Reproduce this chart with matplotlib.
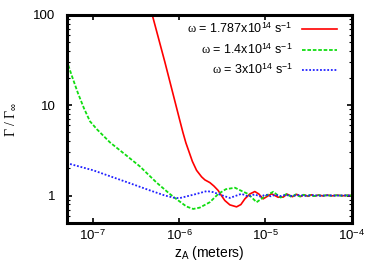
import matplotlib
matplotlib.use("Agg")
import matplotlib.pyplot as plt
from matplotlib.ticker import LogLocator, FixedLocator, NullFormatter

plt.rcParams['font.family'] = ['Liberation Sans', 'DejaVu Sans']
plt.rcParams['mathtext.fontset'] = 'custom'
plt.rcParams['mathtext.rm'] = 'Liberation Sans'
plt.rcParams['mathtext.it'] = 'Liberation Serif'
plt.rcParams['mathtext.bf'] = 'Liberation Sans:bold'

# ---- data ----
red_z = [4.6e-7, 4.9e-7, 6.86e-7, 1.02e-6, 1.108e-6, 1.2e-6, 1.3e-6, 1.426e-6, 1.595e-6,
         1.823e-6, 1.99e-6, 2.273e-6, 2.528e-6, 2.835e-6, 3.088e-6, 3.389e-6, 3.87e-6,
         4.627e-6, 5.19e-6, 5.77e-6, 6.59e-6, 7.52e-6, 8.37e-6, 9.39e-6, 1.05e-5,
         1.175e-5, 1.4e-5, 1.6e-5, 1.78e-5, 2.05e-5, 2.3e-5, 2.55e-5, 2.8e-5, 3.1e-5,
         3.4e-5, 3.7e-5, 4.1e-5, 4.6e-5, 5.2e-5, 5.9e-5, 6.8e-5, 7.8e-5, 9e-5, 1e-4]
red_g = [129, 100, 30, 6.8, 5.01, 3.83, 3.08, 2.39, 1.90,
         1.61, 1.49, 1.39, 1.275, 1.137, 1.0, 0.88, 0.788,
         0.749, 0.794, 0.918, 1.04, 1.107, 1.04, 0.918, 0.98,
         1.045, 0.957, 0.96, 1.035, 0.97, 1.03, 0.975, 1.02, 0.98,
         1.018, 0.985, 1.012, 0.99, 1.01, 0.992, 1.008, 0.994, 1.005, 0.997]

green_z = [5.0e-8, 5.77e-8, 6.77e-8, 7.94e-8, 9.32e-8, 1.123e-7, 1.389e-7, 1.587e-7,
           2.366e-7, 3.526e-7, 5.5e-7, 7.83e-7, 8.95e-7, 1.22e-6, 1.46e-6, 1.74e-6,
           2.27e-6, 2.84e-6, 3.48e-6, 4.43e-6, 5.33e-6, 6.3e-6, 7.89e-6, 9.84e-6, 1.23e-5,
           1.5e-5, 1.75e-5, 2.0e-5, 2.25e-5, 2.5e-5, 2.75e-5, 3.0e-5, 3.3e-5, 3.6e-5,
           4.0e-5, 4.5e-5, 5.1e-5, 5.8e-5, 6.7e-5, 7.7e-5, 8.9e-5, 1e-4]
green_g = [31.6, 21.0, 13.6, 9.26, 6.64, 5.41, 4.41, 3.88,
           2.86, 2.10, 1.39, 1.04, 0.94, 0.755, 0.71, 0.735,
           0.843, 1.04, 1.175, 1.22, 1.12, 1.04, 0.843, 0.98, 1.1,
           0.95, 1.04, 0.965, 1.03, 0.975, 1.02, 0.98, 1.015, 0.985,
           1.012, 0.99, 1.008, 0.993, 1.006, 0.995, 1.004, 0.998]

blue_z = [5.0e-8, 1.02e-7, 2.47e-7, 4.6e-7, 6.86e-7, 8.95e-7, 1.02e-6, 1.52e-6, 2.1e-6,
          2.48e-6, 3.39e-6, 3.87e-6, 5.28e-6, 6.3e-6, 7.5e-6, 8.8e-6, 1.0e-5, 1.15e-5,
          1.3e-5, 1.5e-5, 1.7e-5, 2.0e-5, 2.4e-5, 2.9e-5, 3.5e-5, 4.3e-5, 5.3e-5, 6.5e-5,
          8e-5, 1e-4]
blue_g = [2.29, 1.9, 1.41, 1.14, 1.0, 0.94, 0.937, 1.03, 1.12,
          1.09, 0.98, 0.94, 1.045, 0.975, 1.03, 0.97, 1.025, 0.98,
          1.02, 0.985, 1.015, 0.99, 1.01, 0.992, 1.007, 0.995, 1.005, 0.997,
          1.003, 1.0]

labels = [r'$\omega$ = 1.787x10$^{14}$ s$^{-1}$',
          r'$\omega$ = 1.4x10$^{14}$ s$^{-1}$',
          r'$\omega$ = 3x10$^{14}$ s$^{-1}$']
xticks = [1e-7, 1e-6, 1e-5, 1e-4]
xticklabels = [r'10$^{-7}$', r'10$^{-6}$', r'10$^{-5}$', r'10$^{-4}$']
yticks = [1, 10, 100]
yticklabels = ['1', '10', '100']

fig = plt.figure(figsize=(3.74, 2.62), dpi=100)
ax = fig.add_axes([0.178, 0.150, 0.763, 0.793])

ax.plot(red_z, red_g, color='#ff0000', lw=1.2, ls='-', label=labels[0])
ax.plot(green_z, green_g, color='#11dd11', lw=1.3, ls=(0, (2, 1)), label=labels[1])
ax.plot(blue_z, blue_g, color='#2020ff', lw=1.3, ls=(0, (1, 1)), label=labels[2])

ax.set_xscale('log')
ax.set_yscale('log')
ax.set_xlim(5e-8, 1e-4)
ax.set_ylim(0.5, 100)

ax.xaxis.set_major_locator(FixedLocator(xticks))
ax.set_xticklabels(xticklabels)
ax.xaxis.set_minor_locator(FixedLocator([]))
ax.yaxis.set_major_locator(FixedLocator(yticks))
ax.set_yticklabels(yticklabels)
ax.yaxis.set_minor_locator(LogLocator(base=10, subs=range(2, 10)))
ax.yaxis.set_minor_formatter(NullFormatter())

ax.tick_params(which='both', direction='in', top=True, right=True, labelsize=9.5)
ax.tick_params(which='major', length=3.5, width=1.2)
ax.tick_params(axis='x', which='major', pad=4)
ax.tick_params(axis='y', which='major', pad=8)
ax.tick_params(which='minor', length=2, width=0.8)
for sp in ax.spines.values():
    sp.set_linewidth(2.2)

ax.set_xlabel(r'z$_\mathrm{A}$ (meters)', fontsize=10, labelpad=1)
ax.set_ylabel(r'Γ / Γ$_{\infty}$', fontsize=10, family='Liberation Serif', labelpad=11)

leg = ax.legend(loc='upper right', bbox_to_anchor=(0.946, 0.966), frameon=False,
                markerfirst=False, fontsize=9, handlelength=2.8, handletextpad=0.7,
                labelspacing=0.48, borderpad=0, borderaxespad=0)

fig.savefig('out.png', dpi=100)
